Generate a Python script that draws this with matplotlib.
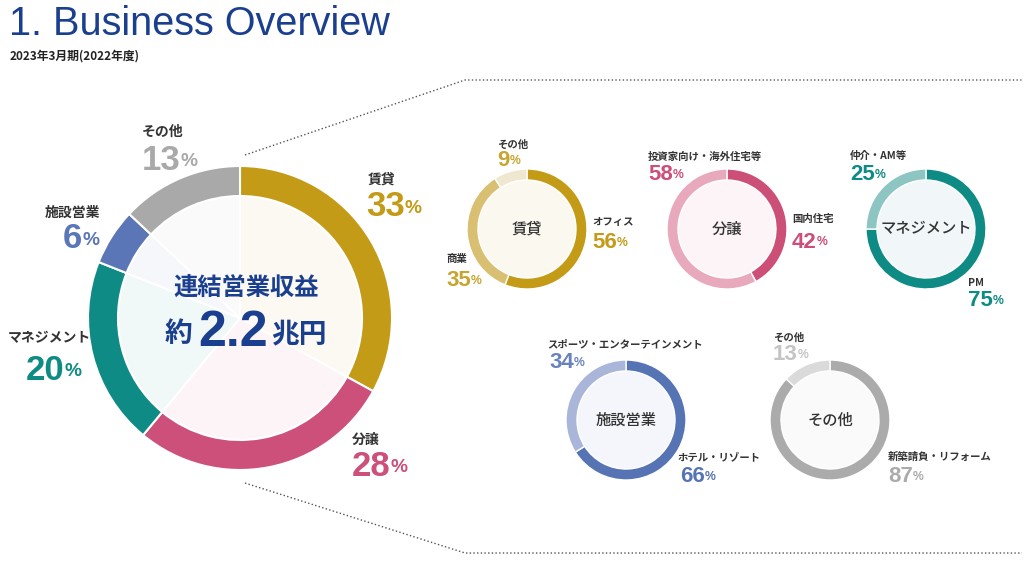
import matplotlib.pyplot as plt
from matplotlib.colors import to_rgb

plt.rcParams['font.family'] = ['Noto Sans CJK JP', 'DejaVu Sans']

W, H = 1024, 576

# main breakdown (clockwise from top)
main_labels = ['賃貸', '分譲', 'マネジメント', '施設営業', 'その他']
main_share = [33, 28, 20, 6, 13]
main_colors = ['#C39B17', '#CC5079', '#0E8B84', '#5A76B6', '#A9A9A9']

# sub breakdowns
rent_labels = ['オフィス', '商業', 'その他']
rent_share = [56, 35, 9]
rent_colors = ['#C39B17', '#D8BF72', '#EFE7CF']
rent_text = ['#C39B17', '#C7A530', '#C7A530']

sale_labels = ['国内住宅', '投資家向け・海外住宅等']
sale_share = [42, 58]
sale_colors = ['#CC4F78', '#E9A9BD']
sale_text = ['#CC4F78', '#CC4F78']

mgmt_labels = ['PM', '仲介・AM等']
mgmt_share = [75, 25]
mgmt_colors = ['#0E8B84', '#8DC5C3']
mgmt_text = ['#0E8B84', '#0E8B84']

fac_labels = ['ホテル・リゾート', 'スポーツ・エンターテインメント']
fac_share = [66, 34]
fac_colors = ['#5674B4', '#A9B6D9']
fac_text = ['#5674B4', '#6A82BC']

oth_labels = ['新築請負・リフォーム', 'その他']
oth_share = [87, 13]
oth_colors = ['#ABABAB', '#DADADA']
oth_text = ['#ABABAB', '#C4C4C4']

NUM_FONT = ['Liberation Sans', 'DejaVu Sans']
NAVY = '#1B3F8F'


def Y(y):
    return H - y


def tint(c, a=0.06):
    r, g, b = to_rgb(c)
    return (1 - a + a * r, 1 - a + a * g, 1 - a + a * b)


def pct(ax, x, y, value, color, size=15):
    t = ax.text(x, Y(y), str(value), color=color, fontsize=size, fontweight='bold',
                ha='left', va='center', family=NUM_FONT)
    ax.annotate('%', xy=(1, 0.2), xycoords=t, xytext=(0, 0), textcoords='offset points',
                color=color, fontsize=size * 0.55, fontweight='bold', ha='left', va='bottom',
                family=NUM_FONT)


def label(ax, x, y, s, size=9):
    ax.text(x, Y(y), s, fontsize=size, fontweight='bold', color='#333333', ha='left', va='center')


fig = plt.figure(figsize=(10.24, 5.76), dpi=100)
ax = fig.add_axes([0, 0, 1, 1])

# title
ax.text(9, Y(24), '1. Business Overview', fontsize=28.5, color=NAVY, ha='left', va='center',
        family=NUM_FONT)
ax.text(10, Y(56), '2023年3月期(2022年度)', fontsize=8.5, fontweight='bold', color='#222222',
        ha='left', va='center')

# connector lines
ax.plot([245, 465, 1022], [Y(155), Y(80), Y(80)], ls=':', color='#555555', lw=1)
ax.plot([245, 465, 1022], [Y(483), Y(553), Y(553)], ls=':', color='#555555', lw=1)

# main donut
c = (240, Y(318))
ax.pie(main_share, colors=[tint(k) for k in main_colors], startangle=90, counterclock=False,
       center=c, radius=122, wedgeprops=dict(edgecolor='white', linewidth=1.5))
ax.pie(main_share, colors=main_colors, startangle=90, counterclock=False, center=c, radius=152,
       wedgeprops=dict(width=30, edgecolor='white', linewidth=1.5))

ax.text(246, Y(288), '連結営業収益', fontsize=17.5, fontweight='bold', color=NAVY,
        ha='center', va='center')
ax.text(192, Y(334), '約', fontsize=20, fontweight='bold', color=NAVY, ha='right', va='center')
ax.text(233, Y(333), '2.2', fontsize=36, fontweight='bold', color=NAVY, ha='center',
        va='center', family=NUM_FONT)
ax.text(271, Y(334), '兆円', fontsize=20, fontweight='bold', color=NAVY, ha='left', va='center')

main_pos = [(368, 180, 366, 207), (352, 440, 352, 466), (8, 338, 26, 370),
            (45, 213, 63, 239), (142, 132, 142, 160)]
for (lx, ly, px, py), s, v, col in zip(main_pos, main_labels, main_share, main_colors):
    label(ax, lx, ly, s, 10)
    pct(ax, px, py, v, col, 25)

# small donuts
subs = [
    ((527, 229), '賃貸', rent_labels, rent_share, rent_colors, rent_text, '#FBF8F0',
     [(592, 222, 592, 243), (446, 259, 446, 281), (497, 145, 497, 161)]),
    ((727, 229), '分譲', sale_labels, sale_share, sale_colors, sale_text, '#FCF4F7',
     [(792, 219, 792, 242), (648, 157, 648, 175)]),
    ((926, 229), 'マネジメント', mgmt_labels, mgmt_share, mgmt_colors, mgmt_text, '#F1F7F8',
     [(968, 283, 968, 301), (850, 156, 850, 175)]),
    ((626, 420), '施設営業', fac_labels, fac_share, fac_colors, fac_text, '#F4F6FB',
     [(678, 457, 680, 477), (547, 344, 549, 363)]),
    ((830, 420), 'その他', oth_labels, oth_share, oth_colors, oth_text, '#FAFAFA',
     [(888, 457, 888, 477), (773, 338, 773, 355)]),
]
for (cx, cy), title, labs, vals, cols, tcols, fill, pos in subs:
    ax.pie([1], colors=[fill], center=(cx, Y(cy)), radius=50)
    ax.pie(vals, colors=cols, startangle=90, counterclock=False, center=(cx, Y(cy)), radius=60,
           wedgeprops=dict(width=11, edgecolor='white', linewidth=1))
    ax.text(cx, Y(cy), title, fontsize=11, fontweight='medium', color='#333333',
            ha='center', va='center')
    for (lx, ly, px, py), s, v, tc in zip(pos, labs, vals, tcols):
        label(ax, lx, ly, s, 7.5)
        pct(ax, px, py, v, tc, 16)

ax.set_xlim(0, W)
ax.set_ylim(0, H)
ax.set_aspect('auto')
ax.axis('off')

fig.savefig('out.png', dpi=100)
